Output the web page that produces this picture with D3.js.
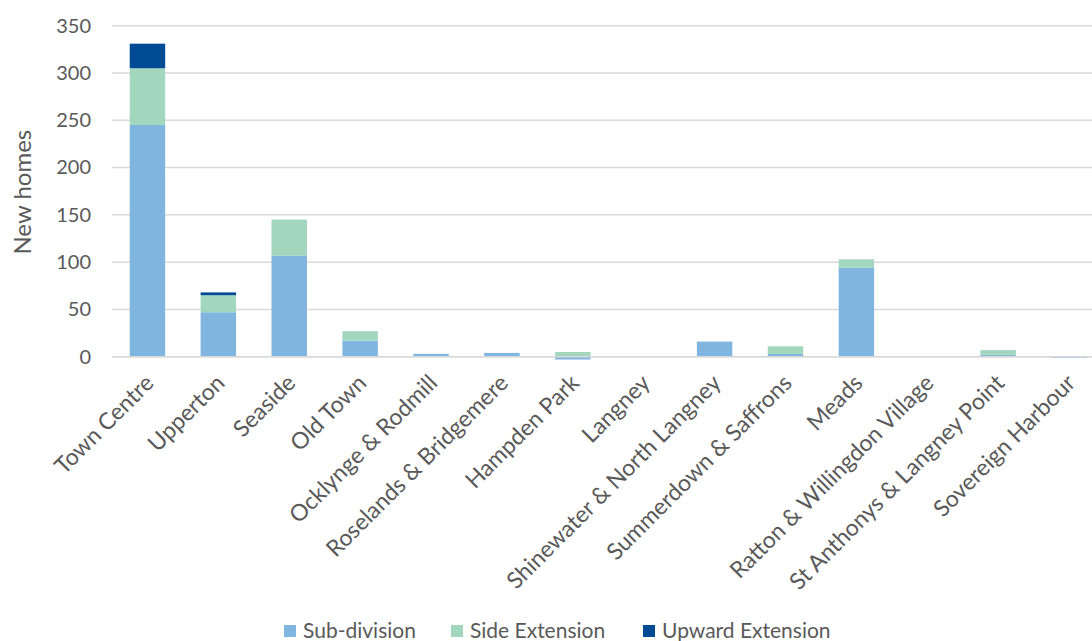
<!DOCTYPE html>
<html>
<head>
<meta charset="utf-8">
<script src="https://cdn.jsdelivr.net/npm/d3@7"></script>
<style>
  html, body { margin: 0; padding: 0; background: #fff; }
  svg { display: block; font-family: "Lato", "Open Sans", sans-serif; }
</style>
</head>
<body>
<svg id="chart" width="1092" height="641"></svg>
<script>
// Wards and new homes delivered by type
const categories = [
  "Town Centre", "Upperton", "Seaside", "Old Town", "Ocklynge & Rodmill",
  "Roselands & Bridgemere", "Hampden Park", "Langney", "Shinewater & North Langney",
  "Summerdown & Saffrons", "Meads", "Ratton & Willingdon Village",
  "St Anthonys & Langney Point", "Sovereign Harbour"
];
const subDivision     = [245, 47, 107, 17, 3, 4, -3, 0, 16, 3, 94, 0, 2, -1];
const sideExtension   = [60, 18, 38, 10, 0, 0, 5, 0, 0, 8, 9, 0, 5, 0];
const upwardExtension = [26, 3, 0, 0, 0, 0, 0, 0, 0, 0, 0, 0, 0, 0];

const seriesNames  = ["Sub-division", "Side Extension", "Upward Extension"];
const seriesColors = ["#80b5df", "#a2d7bd", "#004b93"];
const yTicks = [0, 50, 100, 150, 200, 250, 300, 350];

const rows = categories.map((c, i) => ({
  cat: c,
  "Sub-division": subDivision[i],
  "Side Extension": sideExtension[i],
  "Upward Extension": upwardExtension[i]
}));

const svg = d3.select("#chart");
const plot = { left: 112, right: 1104.5, top: 25.7, bottom: 356.7 };
const textColor = "#595959";

const x = d3.scaleBand().domain(categories).range([plot.left, plot.right]).paddingInner(0.5).paddingOuter(0.25);
const y = d3.scaleLinear().domain([0, 350]).range([plot.bottom, plot.top]);

// Gridlines
svg.append("g").selectAll("line").data(yTicks).join("line")
  .attr("x1", plot.left).attr("x2", plot.right)
  .attr("y1", d => y(d)).attr("y2", d => y(d))
  .attr("stroke", "#d9d9d9").attr("stroke-width", 1.5);

// Y axis labels
const yAxis = d3.axisLeft(y).tickValues(yTicks).tickSize(0).tickPadding(0);
const yg = svg.append("g").attr("transform", `translate(${plot.left - 21},0)`).call(yAxis);
yg.select(".domain").remove();
yg.selectAll("text").attr("fill", textColor).style("font-size", "20px").style("font-family", "Lato, sans-serif");

// Y axis title
svg.append("text")
  .attr("transform", `translate(31,${(plot.top + plot.bottom) / 2 + 1}) rotate(-90)`)
  .attr("text-anchor", "middle")
  .attr("fill", textColor).style("font-size", "24px")
  .text("New homes");

// Stacked bars (positive and negative values stacked separately)
const stack = d3.stack().keys(seriesNames).offset(d3.stackOffsetDiverging);
const stacked = stack(rows);

svg.append("g").selectAll("g").data(stacked).join("g")
  .attr("fill", (d, i) => seriesColors[i])
  .selectAll("rect").data(d => d).join("rect")
  .attr("x", d => x(d.data.cat))
  .attr("width", x.bandwidth())
  .attr("y", d => y(Math.max(d[0], d[1])))
  .attr("height", d => Math.abs(y(d[0]) - y(d[1])));

// Baseline
svg.append("line")
  .attr("x1", plot.left).attr("x2", plot.right)
  .attr("y1", y(0)).attr("y2", y(0))
  .attr("stroke", "#d9d9d9").attr("stroke-width", 1.5);

// X axis labels rotated
const xAxis = d3.axisBottom(x).tickSize(0).tickPadding(0);
const xg = svg.append("g").attr("transform", `translate(0,${plot.bottom})`).call(xAxis);
xg.select(".domain").remove();
xg.selectAll("text")
  .attr("fill", textColor).style("font-size", "23px").style("font-family", "Lato, sans-serif")
  .attr("text-anchor", "end")
  .attr("dy", "0.35em")
  .attr("transform", "translate(2,22) rotate(-45)")
  .attr("y", 0).attr("x", 0);

// Legend
const legendX = [284, 451, 643];
const lg = svg.append("g").selectAll("g").data(seriesNames).join("g")
  .attr("transform", (d, i) => `translate(${legendX[i]},625)`);
lg.append("rect").attr("width", 12).attr("height", 12).attr("fill", (d, i) => seriesColors[i]);
lg.append("text").attr("x", 19).attr("y", 13)
  .attr("fill", textColor).style("font-size", "21px")
  .text(d => d);
</script>
</body>
</html>
